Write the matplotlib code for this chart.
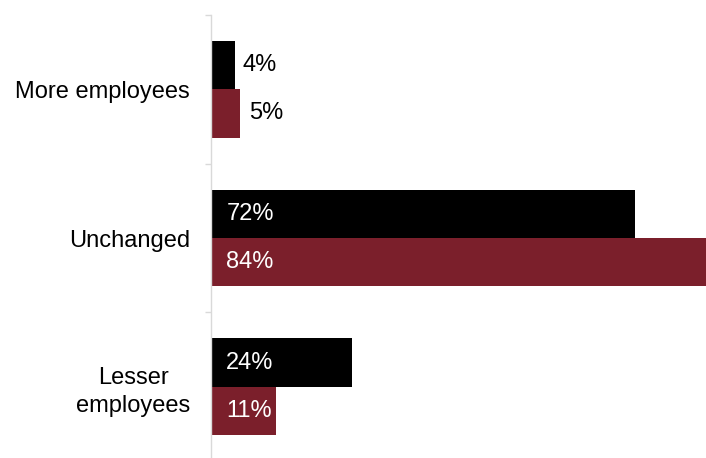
import matplotlib.pyplot as plt
import numpy as np

categories = ['More employees', 'Unchanged', 'Lesser\nemployees']
series_a = [4, 72, 24]
series_b = [5, 84, 11]

plt.rcParams['font.family'] = ['Liberation Sans', 'DejaVu Sans']

fig = plt.figure(figsize=(7.06, 4.58), dpi=100)
ax = fig.add_axes([211 / 706, -3 / 458, 495 / 706, 446 / 458])

y = np.arange(len(categories))
h = 0.324
bars_a = ax.barh(y - h / 2, series_a, height=h, color='#000000')
bars_b = ax.barh(y + h / 2, series_b, height=h, color='#7b1f2b')

ax.set_xlim(0, 84)
ax.set_ylim(2.5, -0.5)

# value labels: inside the long bars, outside the short ones
for bars, vals in [(bars_a, series_a), (bars_b, series_b)]:
    for b, v in zip(bars, vals):
        cy = b.get_y() + b.get_height() / 2
        if v >= 10:
            ax.text(2.6, cy, f'{v}%', va='center', ha='left', color='white', fontsize=17)
        else:
            ax.text(v + 1.4, cy, f'{v}%', va='center', ha='left', color='black', fontsize=17)

ax.set_yticks(y)
ax.set_yticklabels(categories, fontsize=17, multialignment='center', linespacing=1.35)
ax.set_yticks([-0.5, 0.5, 1.5, 2.5], minor=True)
ax.tick_params(axis='y', which='major', length=0, pad=15)
ax.tick_params(axis='y', which='minor', length=4.5, color='#d9d9d9', width=1)
ax.set_xticks([])

for s in ['top', 'right', 'bottom']:
    ax.spines[s].set_visible(False)
ax.spines['left'].set_color('#d9d9d9')
ax.spines['left'].set_linewidth(1)

fig.savefig('out.png', dpi=100)
